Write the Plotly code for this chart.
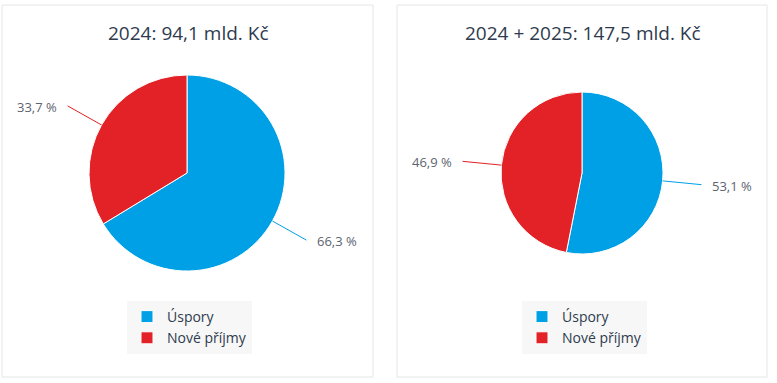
import math
import plotly.graph_objects as go

W, H = 777, 383

categories = ["Úspory", "Nové příjmy"]
values_2024 = [66.3, 33.7]
values_2024_2025 = [53.1, 46.9]
titles = ["2024: 94,1 mld. Kč", "2024 + 2025: 147,5 mld. Kč"]
colors = ["#00a0e6", "#e22226"]

# layout constants (pixels)
panels = [
    dict(box=(2, 5, 373, 377), cx=187, cy=173, r=98, title_y=33, legend=(127, 301)),
    dict(box=(397, 5, 767, 377), cx=582, cy=173, r=81, title_y=33, legend=(522, 301)),
]
LABEL_DIST = 39


def px(x):
    return x / W


def py(y):
    return 1 - y / H


fig = go.Figure()
shapes = []
annotations = []
series = [values_2024, values_2024_2025]

for i, (vals, p) in enumerate(zip(series, panels)):
    cx, cy, r = p["cx"], p["cy"], p["r"]
    # zero-width suffix keeps the second chart's legend entries separate
    labels = [c + "\u200b" * i for c in categories]
    fig.add_trace(go.Pie(
        labels=labels,
        values=vals,
        sort=False,
        direction="clockwise",
        rotation=0,
        marker=dict(colors=colors, line=dict(color="white", width=1)),
        textinfo="none",
        textposition="none",
        hoverinfo="label+percent",
        domain=dict(x=[px(cx - r), px(cx + r)], y=[py(cy + r), py(cy - r)]),
        legend="legend" if i == 0 else "legend2",
        showlegend=True,
    ))
    x0, y0, x1, y1 = p["box"]
    shapes.append(dict(type="rect", xref="paper", yref="paper",
                       x0=px(x0), x1=px(x1), y0=py(y1), y1=py(y0),
                       line=dict(color="#e6e6e6", width=1), fillcolor="rgba(0,0,0,0)",
                       layer="below"))
    annotations.append(dict(text=titles[i], xref="paper", yref="paper",
                            x=px((x0 + x1) / 2 + 1), y=py(p["title_y"]),
                            xanchor="center", yanchor="middle", showarrow=False,
                            font=dict(family="Open Sans", size=19, color="#2e3b4e")))
    total = sum(vals)
    cum = 0
    for v, c in zip(vals, colors):
        mid = (cum + v / 2) / total * 2 * math.pi
        cum += v
        sx, sy = math.sin(mid), -math.cos(mid)
        ex, ey = cx + r * sx, cy + r * sy
        lx, ly = cx + (r + LABEL_DIST) * sx, cy + (r + LABEL_DIST) * sy
        shapes.append(dict(type="line", xref="paper", yref="paper",
                           x0=px(ex), y0=py(ey), x1=px(lx), y1=py(ly),
                           line=dict(color=c, width=1)))
        right = sx >= 0
        annotations.append(dict(text=f"{v:.1f} %".replace(".", ","),
                                xref="paper", yref="paper",
                                x=px(lx + (9 if right else -9)), y=py(ly + 1),
                                xanchor="left" if right else "right", yanchor="middle",
                                showarrow=False,
                                font=dict(family="Open Sans", size=13, color="#5c6370")))

leg_common = dict(bgcolor="#f7f7f7", borderwidth=0, xanchor="left", yanchor="top",
                  font=dict(family="Open Sans", size=14, color="#2e3b4e"),
                  itemclick=False, itemdoubleclick=False, tracegroupgap=0)

fig.update_layout(
    width=W, height=H,
    margin=dict(l=0, r=0, t=0, b=0),
    paper_bgcolor="white",
    plot_bgcolor="white",
    shapes=shapes,
    annotations=annotations,
    legend=dict(x=px(panels[0]["legend"][0]), y=py(panels[0]["legend"][1]), **leg_common),
    legend2=dict(x=px(panels[1]["legend"][0]), y=py(panels[1]["legend"][1]), **leg_common),
    showlegend=True,
)

fig.write_html("out.html", config={"displayModeBar": False},
               post_script="document.body.style.margin='0';")
